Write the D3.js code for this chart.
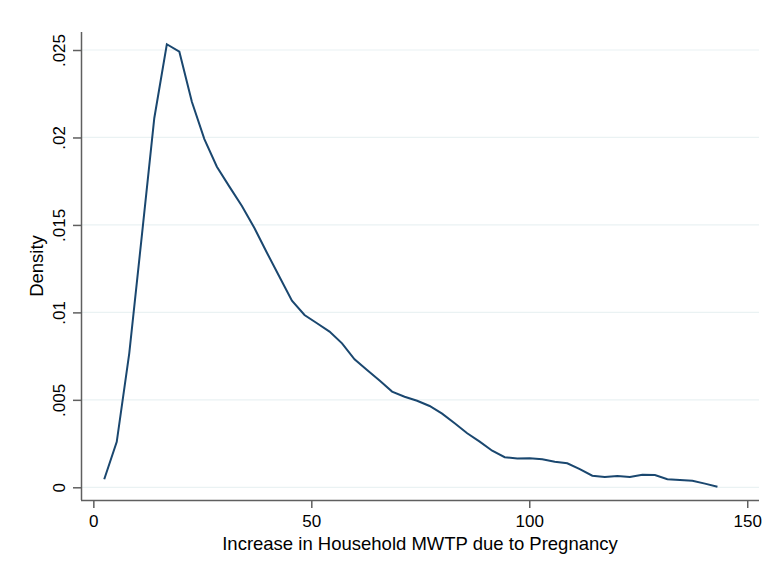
<!DOCTYPE html>
<html>
<head>
<meta charset="utf-8">
<script src="https://cdn.jsdelivr.net/npm/d3@7"></script>
<style>
  body { margin: 0; background: #fff; }
  svg { display: block; font-family: "Liberation Sans", Arial, Helvetica, sans-serif; }
</style>
</head>
<body>
<svg id="chart" width="767" height="569"></svg>
<script>
// kdensity evaluation grid (50 points) and estimated density
const mwtp = [
  2.50, 5.37, 8.24, 11.11, 13.98, 16.86, 19.73, 22.60, 25.47, 28.34,
  31.21, 34.08, 36.95, 39.82, 42.69, 45.56, 48.44, 51.31, 54.18, 57.05,
  59.92, 62.79, 65.66, 68.53, 71.40, 74.27, 77.14, 80.01, 82.89, 85.76,
  88.63, 91.50, 94.37, 97.24, 100.11, 102.98, 105.85, 108.72, 111.59, 114.46,
  117.33, 120.21, 123.08, 125.95, 128.82, 131.69, 134.56, 137.43, 140.30, 143.17
];
const density = [
  0.00046, 0.00260, 0.00766, 0.01434, 0.02110, 0.02533, 0.02490, 0.02204, 0.01991, 0.01833,
  0.01719, 0.01608, 0.01482, 0.01341, 0.01204, 0.01067, 0.00985, 0.00938, 0.00890, 0.00823,
  0.00732, 0.00671, 0.00610, 0.00547, 0.00518, 0.00495, 0.00465, 0.00421, 0.00366, 0.00309,
  0.00261, 0.00209, 0.00172, 0.00164, 0.00166, 0.00160, 0.00146, 0.00137, 0.00104, 0.00066,
  0.00059, 0.00065, 0.00059, 0.00072, 0.00070, 0.00046, 0.00042, 0.00038, 0.00021, 0.00003
];
const xTicks = [0, 50, 100, 150];
const yTicks = [0, 0.005, 0.01, 0.015, 0.02, 0.025];
const yTickLabels = ["0", ".005", ".01", ".015", ".02", ".025"];
const xLabel = "Increase in Household MWTP due to Pregnancy";
const yLabel = "Density";

let svg = d3.select("#chart");
let plotLeft = 81, plotRight = 759, plotTop = 32, plotBottom = 500;

let xScale = d3.scaleLinear()
    .domain([-2.83, 152.7])
    .range([plotLeft, plotRight]);

let yScale = d3.scaleLinear()
    .domain([-0.000726, 0.02603])
    .range([plotBottom, plotTop]);

// Gridlines
svg.append("g")
    .selectAll("line")
    .data(yTicks)
    .enter()
    .append("line")
    .attr("x1", plotLeft)
    .attr("x2", plotRight)
    .attr("y1", d => yScale(d))
    .attr("y2", d => yScale(d))
    .style("stroke", "#eaf2f3")
    .style("stroke-width", 1.2);

// Y axis
let yAxis = svg.append("g")
    .attr("transform", `translate(${plotLeft},0)`)
    .call(d3.axisLeft(yScale)
        .tickValues(yTicks)
        .tickFormat((d, i) => yTickLabels[i])
        .tickSize(8)
        .tickSizeOuter(0));
yAxis.select(".domain").attr("d", `M0.5,${plotTop}V${plotBottom}`);
yAxis.selectAll(".tick text")
    .attr("transform", "rotate(-90)")
    .attr("x", 0)
    .attr("y", -16)
    .attr("dy", 0)
    .attr("text-anchor", "middle");

// X axis
let xAxis = svg.append("g")
    .attr("transform", `translate(0,${plotBottom})`)
    .call(d3.axisBottom(xScale)
        .tickValues(xTicks)
        .tickFormat(d3.format("d"))
        .tickSize(8)
        .tickSizeOuter(0));
xAxis.select(".domain").attr("d", `M${plotLeft},0.5H${plotRight}`);
xAxis.selectAll(".tick text")
    .attr("y", 27)
    .attr("dy", 0);

svg.selectAll(".domain, .tick line")
    .style("stroke", "#5f5f5f")
    .style("stroke-width", 1.5);
svg.selectAll(".tick text")
    .style("font-size", "17px")
    .style("fill", "#000");

// Density line
let line = d3.line()
    .x((d, i) => xScale(mwtp[i]))
    .y(d => yScale(d));

svg.append("path")
    .datum(density)
    .attr("d", line)
    .style("fill", "none")
    .style("stroke", "#1a476f")
    .style("stroke-width", 2);

// Axis titles
svg.append("text")
    .attr("x", (plotLeft + plotRight) / 2)
    .attr("y", 550)
    .attr("text-anchor", "middle")
    .style("font-size", "18.5px")
    .text(xLabel);

svg.append("text")
    .attr("transform", "rotate(-90)")
    .attr("x", -(plotTop + plotBottom) / 2)
    .attr("y", 43)
    .attr("text-anchor", "middle")
    .style("font-size", "18.5px")
    .text(yLabel);
</script>
</body>
</html>
